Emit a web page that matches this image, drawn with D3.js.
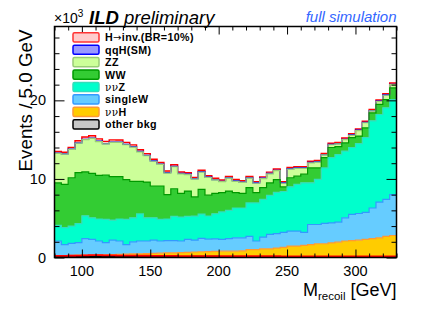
<!DOCTYPE html>
<html><head><meta charset="utf-8">
<script src="https://cdn.jsdelivr.net/npm/d3@7"></script>
<style>body{margin:0;background:#fff} svg{display:block}</style>
</head><body><svg id="c" width="436" height="318"></svg>
<script>
const binLow = [80,85,90,95,100,105,110,115,120,125,130,135,140,145,150,155,160,165,170,175,180,185,190,195,200,205,210,215,220,225,230,235,240,245,250,255,260,265,270,275,280,285,290,295,300,305,310,315,320,325];
const binWidth = 5;
// values in units of 10^3 events / 5 GeV
const otherBkg = [0.12,0.12,0.12,0.12,0.12,0.12,0.12,0.12,0.12,0.12,0.12,0.12,0.12,0.12,0.12,0.12,0.12,0.12,0.12,0.12,0.14,0.15,0.15,0.14,0.12,0.12,0.12,0.12,0.12,0.12,0.12,0.12,0.12,0.12,0.12,0.12,0.12,0.12,0.12,0.12,0.12,0.12,0.12,0.12,0.12,0.12,0.12,0.12,0.12,0.12];
const nnH = [0.13,0.13,0.16,0.18,0.18,0.20,0.23,0.23,0.26,0.28,0.30,0.33,0.36,0.38,0.40,0.43,0.46,0.48,0.50,0.53,0.56,0.58,0.60,0.63,0.68,0.68,0.68,0.73,0.88,0.88,0.98,0.98,1.08,1.18,1.33,1.33,1.43,1.53,1.63,1.63,1.73,1.83,1.98,2.03,2.08,2.18,2.28,2.38,2.58,2.68];
const singleW = [1.85,1.40,1.52,1.60,2.10,1.98,1.75,1.55,1.82,1.70,1.23,1.55,1.62,1.60,1.68,1.55,1.57,1.55,1.48,1.65,1.52,1.70,1.58,1.60,1.50,1.60,1.70,1.65,1.70,1.10,1.50,1.85,1.85,1.90,1.90,1.90,1.65,2.55,2.45,2.60,2.55,2.55,2.95,3.35,3.40,3.45,3.90,4.55,4.70,5.20];
const nnZ = [2.0,2.15,2.2,2.4,2.9,2.75,2.8,2.95,2.55,2.8,3.2,3.05,3.45,2.95,2.85,2.75,2.75,3.1,3.05,2.95,3.05,3.1,2.95,3.2,3.5,3.6,3.8,3.8,4.25,4.85,4.8,4.95,5.25,5.2,5.65,5.95,6.3,5.3,5.75,7.05,8.3,8.6,8.5,8.5,8.9,9.5,11.1,11.15,11.65,12.1];
const WW = [5.4,5.5,6.15,6.5,5.6,5.65,5.55,5.65,5.55,5.4,5.05,4.65,4.15,4.55,4.05,4.25,3.1,3.5,3.0,3.2,2.45,3.15,2.65,2.6,2.45,2.45,1.95,1.85,1.95,1.3,1.5,1.6,1.6,0.6,1.15,1.05,1.1,1.9,1.45,1.3,1.3,1.0,1.05,1.25,0.95,1.25,1.0,1.3,1.05,1.5];
const ZZ = [3.75,3.85,3.6,3.75,4.1,4.45,4.3,3.95,4.35,4.35,4.45,4.35,3.75,3.35,3.15,2.75,2.75,2.8,2.5,2.1,2.25,2.2,2.25,1.7,1.4,1.65,1.45,1.4,1.2,1.2,1.15,1.15,1.15,0.45,1.1,1.0,0.75,0.65,0.75,0.35,0.35,0.35,0.4,0.3,0.7,0.65,0.25,0.35,0.55,0.4];
const qqH = [0.05,0.05,0.05,0.05,0.05,0.05,0.05,0.05,0.05,0.05,0.05,0.05,0.05,0.05,0.05,0.05,0.05,0.05,0.05,0.05,0.05,0.05,0.05,0.05,0.05,0.05,0.05,0.05,0.05,0.05,0.05,0.05,0.05,0.05,0.05,0.05,0.05,0.05,0.05,0.05,0.05,0.05,0.05,0.05,0.05,0.05,0.05,0.05,0.05,0.05];
const Hinv = [0.2,0.2,0.22,0.25,0.28,0.3,0.3,0.28,0.27,0.25,0.25,0.24,0.22,0.22,0.2,0.2,0.2,0.2,0.18,0.18,0.18,0.18,0.17,0.17,0.17,0.17,0.17,0.16,0.16,0.16,0.16,0.16,0.16,0.15,0.15,0.15,0.15,0.15,0.15,0.15,0.15,0.15,0.15,0.15,0.15,0.15,0.15,0.15,0.15,0.15];

const xMajor = [100,150,200,250,300];
const yMajor = [0,10,20];
const xDomain = [80,330];
const yDomain = [0,29.4];

// stacking order bottom -> top
const layers = [
  {key:"other", vals: otherBkg, fill:"#c8c8c8", line:"#000000"},
  {key:"nnH",   vals: nnH,      fill:"#ffcc00", line:"#ff9933"},
  {key:"sW",    vals: singleW,  fill:"#66ccff", line:"#3399ff"},
  {key:"nnZ",   vals: nnZ,      fill:"#00ffcc", line:"#33ddbb"},
  {key:"WW",    vals: WW,       fill:"#33cc33", line:"#009900"},
  {key:"ZZ",    vals: ZZ,       fill:"#ccff99", line:"#99cc77"},
  {key:"qqH",   vals: qqH,      fill:"#9999ff", line:"#0000ff"},
  {key:"Hinv",  vals: Hinv,     fill:"#ffcccc", line:"#ff0000"}
];
const legendItems = [
  {label:[["H","b"],["→","a"],["inv.(BR=10%)","b"]], fill:"#ffcccc", line:"#ff3333"},
  {label:[["qqH(SM)","b"]], fill:"#9999ff", line:"#0000ff"},
  {label:[["ZZ","b"]], fill:"#ccff99", line:"#99cc77"},
  {label:[["WW","b"]], fill:"#33cc33", line:"#009900"},
  {label:[["νν","s"],["Z","b"]], fill:"#00ffcc", line:"#33ddbb"},
  {label:[["singleW","b"]], fill:"#66ccff", line:"#3399ff"},
  {label:[["νν","s"],["H","b"]], fill:"#ffcc00", line:"#ff9933"},
  {label:[["other bkg","b"]], fill:"#c8c8c8", line:"#000000"}
];

const W = 436, H = 318;
const L = 54.5, R = 396.5, T = 26.5, B = 257.5;
const svg = d3.select("#c");
const font = "'Liberation Sans', Arial, Helvetica, sans-serif";

const x = d3.scaleLinear().domain(xDomain).range([L, R]);
const y = d3.scaleLinear().domain(yDomain).range([B, T]);

const table = binLow.map((b,i) => {
  const r = {lo:b};
  layers.forEach(l => r[l.key] = l.vals[i]);
  return r;
});
const stack = d3.stack().keys(layers.map(l=>l.key))(table);

svg.append("clipPath").attr("id","pc").append("rect")
  .attr("x",L).attr("y",T).attr("width",R-L).attr("height",B-T);
const g = svg.append("g").attr("clip-path","url(#pc)");

function edgesOf(s){
  const pts = s.map((d,i)=>({x:binLow[i], y0:d[0], y1:d[1]}));
  const last = pts[pts.length-1];
  pts.push({x:last.x+binWidth, y0:last.y0, y1:last.y1});
  return pts;
}
const area = d3.area().curve(d3.curveStepAfter)
  .x(d=>x(d.x)).y0(d=>y(d.y0)).y1(d=>y(d.y1));
const topLine = d3.line().curve(d3.curveStepAfter)
  .x(d=>x(d.x)).y(d=>y(d.y1));

stack.forEach((s,k)=>{
  g.append("path").attr("d", area(edgesOf(s)))
    .attr("fill", layers[k].fill).attr("stroke","none");
});
for (let k = stack.length-1; k>=0; k--) {
  g.append("path").attr("d", topLine(edgesOf(stack[k])))
    .attr("fill","none").attr("stroke", layers[k].line)
    .attr("stroke-width", k===stack.length-1 ? 1.4 : 1.2);
}
// signal drawn on its own (unstacked) along the bottom
const sigPts = Hinv.map((v,i)=>({x:binLow[i], y1:v}));
sigPts.push({x:binLow[binLow.length-1]+binWidth, y1:Hinv[Hinv.length-1]});
g.append("path").attr("d", topLine(sigPts))
  .attr("fill","none").attr("stroke","#ff0000").attr("stroke-width",1.8);

// axes with inward ticks (ROOT style)
const xMinor = d3.range(80, 331, 10).filter(v=>!xMajor.includes(v));
const yMinor = d3.range(0, 29, 2).filter(v=>!yMajor.includes(v));
function styleAxis(sel){
  sel.select(".domain").remove();
  sel.selectAll(".tick line").attr("stroke","#000").attr("stroke-width",1);
  sel.selectAll("text").remove();
}
svg.append("g").attr("transform",`translate(0,${B})`)
  .call(d3.axisBottom(x).tickValues(xMajor).tickSize(-8)).call(styleAxis);
svg.append("g").attr("transform",`translate(0,${B})`)
  .call(d3.axisBottom(x).tickValues(xMinor).tickSize(-4)).call(styleAxis);
svg.append("g").attr("transform",`translate(0,${T})`)
  .call(d3.axisTop(x).tickValues(xMajor).tickSize(-8)).call(styleAxis);
svg.append("g").attr("transform",`translate(0,${T})`)
  .call(d3.axisTop(x).tickValues(xMinor).tickSize(-4)).call(styleAxis);
svg.append("g").attr("transform",`translate(${L},0)`)
  .call(d3.axisLeft(y).tickValues(yMajor).tickSize(-10)).call(styleAxis);
svg.append("g").attr("transform",`translate(${L},0)`)
  .call(d3.axisLeft(y).tickValues(yMinor).tickSize(-5)).call(styleAxis);
svg.append("g").attr("transform",`translate(${R},0)`)
  .call(d3.axisRight(y).tickValues(yMajor).tickSize(-10)).call(styleAxis);
svg.append("g").attr("transform",`translate(${R},0)`)
  .call(d3.axisRight(y).tickValues(yMinor).tickSize(-5)).call(styleAxis);

svg.append("rect").attr("x",L).attr("y",T).attr("width",R-L).attr("height",B-T)
  .attr("fill","none").attr("stroke","#000").attr("stroke-width",1.5);

// tick labels
svg.append("g").selectAll("text").data(xMajor).join("text")
  .attr("x",d=>x(d)).attr("y",275.5).attr("text-anchor","middle")
  .attr("font-family",font).attr("font-size",14.5).text(d=>d);
svg.append("g").selectAll("text").data(yMajor).join("text")
  .attr("x",46).attr("y",d=>y(d)+5).attr("text-anchor","end")
  .attr("font-family",font).attr("font-size",14.5).text(d=>d);

// axis titles
const xt = svg.append("text").attr("x",R).attr("y",295.5).attr("text-anchor","end")
  .attr("font-family",font).attr("font-size",18);
xt.append("tspan").text("M");
xt.append("tspan").attr("font-size",11.5).attr("dy",4).text("recoil");
xt.append("tspan").attr("dy",-4).text(" [GeV]");

svg.append("text").attr("transform",`translate(31.5,${T+3}) rotate(-90)`)
  .attr("text-anchor","end").attr("font-family",font).attr("font-size",18.8)
  .text("Events / 5.0 GeV");

// header
const hx = svg.append("text").attr("x",54).attr("y",23).attr("font-family",font).attr("font-size",14);
hx.append("tspan").text("×10");
hx.append("tspan").attr("font-size",10).attr("dy",-6).text("3");
const ht = svg.append("text").attr("x",89).attr("y",23.5).attr("font-family",font).attr("font-size",18.5).attr("font-style","italic");
ht.append("tspan").attr("font-weight","bold").text("ILD");
ht.append("tspan").text(" preliminary");
svg.append("text").attr("x",R).attr("y",21.5).attr("text-anchor","end")
  .attr("font-family",font).attr("font-size",15).attr("font-style","italic")
  .attr("fill","#3366ff").text("full simulation");

// legend
const lg = svg.append("g");
legendItems.forEach((it,i)=>{
  const cy = 37.3 + i*12.43;
  lg.append("rect").attr("x",73).attr("y",cy-4.6).attr("width",26).attr("height",9.2)
    .attr("rx",1.5).attr("fill",it.fill).attr("stroke",it.line).attr("stroke-width",1.5);
  const t = lg.append("text").attr("x",105).attr("y",cy+4)
    .attr("font-family",font).attr("font-size",10.7).attr("letter-spacing",0.35);
  it.label.forEach(([s,st])=>{
    const sp = t.append("tspan").text(s);
    if (st==="b") sp.attr("font-weight","bold");
    else if (st==="a") sp.attr("font-family","'DejaVu Sans', sans-serif").attr("font-size",10);
    else sp.attr("font-family","'DejaVu Serif', serif").attr("font-size",10.5);
  });
});
</script></body></html>
